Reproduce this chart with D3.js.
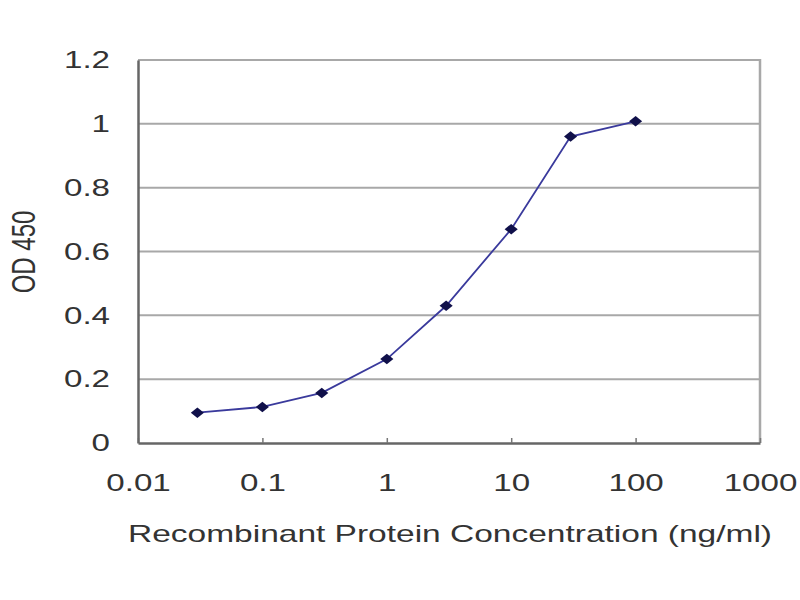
<!DOCTYPE html>
<html>
<head>
<meta charset="utf-8">
<script src="https://cdn.jsdelivr.net/npm/d3@7"></script>
<style>
  body { margin: 0; background: #fff; }
  text { font-family: Arial, "Liberation Sans", sans-serif; fill: #333; }
</style>
</head>
<body>
<div class="drawingArea"></div>
<script>
var concentrations = [0.03, 0.1, 0.3, 1, 3, 10, 30, 100];
var od450 = [0.095, 0.113, 0.157, 0.263, 0.43, 0.67, 0.96, 1.008];
var xTicks = [0.01, 0.1, 1, 10, 100, 1000];
var xTickLabels = ["0.01", "0.1", "1", "10", "100", "1000"];
var yTicks = [0, 0.2, 0.4, 0.6, 0.8, 1, 1.2];

var width = 800;
var height = 600;
var margin = { left: 138, right: 40, top: 60, bottom: 157 };
var stretch = 1.38; // text in the picture is wide

var svg = d3.select(".drawingArea")
    .append("svg")
    .attr("width", width)
    .attr("height", height);

var x = d3.scaleLog()
    .domain([0.01, 1000])
    .range([margin.left, width - margin.right]);

var y = d3.scaleLinear()
    .domain([0, 1.2])
    .range([height - margin.bottom, margin.top]);

// gridlines
svg.selectAll("line.grid")
    .data(yTicks.slice(1))
    .enter()
    .append("line")
    .attr("class", "grid")
    .attr("x1", x(0.01))
    .attr("x2", x(1000))
    .attr("y1", function(d) { return y(d); })
    .attr("y2", function(d) { return y(d); })
    .attr("stroke", "#a8a8a8")
    .attr("stroke-width", 2);

// right border
svg.append("line")
    .attr("x1", x(1000)).attr("x2", x(1000))
    .attr("y1", y(1.2) - 1).attr("y2", y(0))
    .attr("stroke", "#a8a8a8")
    .attr("stroke-width", 2.5);

function widen(sel) {
    sel.attr("transform", function() {
        var x0 = +d3.select(this).attr("x") || 0;
        return "translate(" + x0 + ",0) scale(" + stretch + ",1) translate(" + (-x0) + ",0)";
    });
}

// axes
var xAxis = d3.axisBottom(x)
    .tickValues(xTicks)
    .tickFormat(function(d, i) { return xTickLabels[i]; })
    .tickSizeInner(-5)
    .tickSizeOuter(0)
    .tickPadding(31);

var gx = svg.append("g")
    .attr("transform", "translate(0," + y(0) + ")")
    .call(xAxis);
gx.select(".domain").attr("stroke", "#666").attr("stroke-width", 2.5);
gx.selectAll(".tick line").attr("stroke", "#777").attr("stroke-width", 1.5);
gx.selectAll("text")
    .style("font-size", "24px")
    .attr("fill", "#333")
    .call(widen);

var yAxis = d3.axisLeft(y)
    .tickValues(yTicks)
    .tickFormat(d3.format("~g"))
    .tickSizeInner(0)
    .tickSizeOuter(0)
    .tickPadding(28);

var gy = svg.append("g")
    .attr("transform", "translate(" + x(0.01) + ",0)")
    .call(yAxis);
gy.select(".domain").attr("stroke", "#666").attr("stroke-width", 2.5);
gy.selectAll("text")
    .style("font-size", "24px")
    .attr("fill", "#333")
    .call(widen);

// curve
var line = d3.line()
    .x(function(d, i) { return x(concentrations[i]); })
    .y(function(d) { return y(d); });

svg.append("path")
    .datum(od450)
    .attr("d", line)
    .attr("fill", "none")
    .attr("stroke", "#3a3a9c")
    .attr("stroke-width", 1.8);

svg.selectAll("path.marker")
    .data(od450)
    .enter()
    .append("path")
    .attr("class", "marker")
    .attr("d", d3.symbol().type(d3.symbolSquare).size(55))
    .attr("transform", function(d, i) {
        return "translate(" + x(concentrations[i]) + "," + y(d) + ") scale(1.25,1) rotate(45)";
    })
    .attr("fill", "#10104a");

// titles
svg.append("text")
    .attr("x", 450)
    .attr("y", 542)
    .attr("text-anchor", "middle")
    .attr("textLength", 644)
    .attr("lengthAdjust", "spacingAndGlyphs")
    .style("font-size", "24px")
    .text("Recombinant Protein Concentration (ng/ml)");

svg.append("text")
    .attr("transform", "translate(35,252) scale(" + stretch + ",1) rotate(-90)")
    .attr("text-anchor", "middle")
    .style("font-size", "24px")
    .text("OD 450");
</script>
</body>
</html>
